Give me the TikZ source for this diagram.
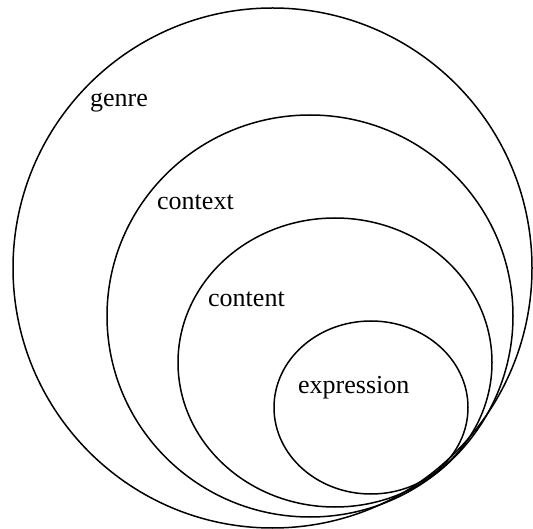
\documentclass[tikz,border=0pt]{standalone}
\usepackage{fontspec}
\setmainfont{Liberation Serif}
\begin{document}
\begin{tikzpicture}[x=1pt,y=-1pt,
  ring/.style={draw=black,line width=1.5pt},
  lbl/.style={anchor=base west,inner sep=0pt,font=\fontsize{26}{30}\selectfont}]
\useasboundingbox (0,0) rectangle (533,529);
% nested rings, all touching at the lower right
\draw[ring] (272.5,268) ellipse [x radius=259.5,y radius=260];
\draw[ring] (310,316) ellipse [x radius=203,y radius=201];
\draw[ring] (335,362.5) ellipse [x radius=157,y radius=144.5];
\draw[ring] (371,407.5) ellipse [x radius=97,y radius=86.5];
% labels
\node[lbl] (genre) at (90,107) {genre};
\node[lbl] (context) at (157,210) {context};
\node[lbl] (content) at (208,307) {content};
\node[lbl] (expression) at (298,393) {expression};
\end{tikzpicture}
\end{document}
